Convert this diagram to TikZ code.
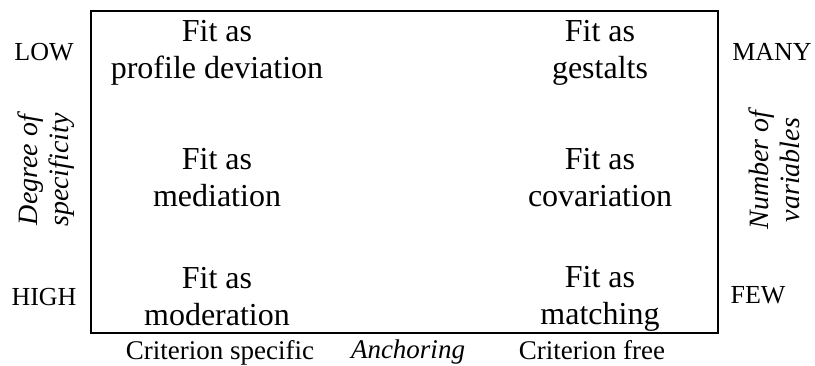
\documentclass[tikz,border=0pt]{standalone}
\usepackage{fontspec}
\setmainfont{Liberation Serif}
\begin{document}
\begin{tikzpicture}[x=0.5pt,y=-0.5pt,
    cell/.style={align=center,font=\fontsize{16}{18.5}\selectfont},
    side/.style={anchor=base,font=\fontsize{13}{15}\selectfont},
    foot/.style={anchor=base,font=\fontsize{13.5}{15}\selectfont},
    axis/.style={align=center,rotate=90,font=\fontsize{14}{15.5}\selectfont\itshape}]
    \useasboundingbox (0,0) rectangle (815,365);
    \draw[line width=0.7pt] (91,11) rectangle (718,333);

    % the six cells
    \node[cell] (pd) at (217,53) {\strut Fit as\\\strut profile deviation};
    \node[cell] (ge) at (600,53) {\strut Fit as\\\strut gestalts};
    \node[cell] (me) at (217,181) {\strut Fit as\\\strut mediation};
    \node[cell] (co) at (600,181) {\strut Fit as\\\strut covariation};
    \node[cell] (mo) at (217,300) {\strut Fit as\\\strut moderation};
    \node[cell] (ma) at (600,299) {\strut Fit as\\\strut matching};

    % ends of the two vertical scales
    \node[side] (low) at (44,60) {LOW};
    \node[side] (high) at (44,305) {HIGH};
    \node[side] (many) at (772,60) {MANY};
    \node[side] (few) at (758,303) {FEW};

    \node[axis] (spec) at (47,170) {\strut Degree of\\\strut specificity};
    \node[axis] (nvar) at (778,170) {\strut Number of\\\strut variables};

    % horizontal scale
    \node[foot] (cs) at (220,359) {Criterion specific};
    \node[foot,font=\fontsize{13.5}{15}\selectfont\itshape] (anch) at (408,358) {Anchoring};
    \node[foot] (cf) at (592,359) {Criterion free};
\end{tikzpicture}
\end{document}
